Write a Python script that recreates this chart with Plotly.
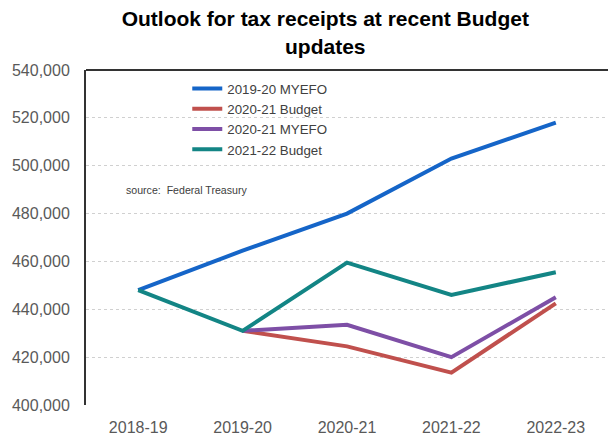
import plotly.graph_objects as go

years = ["2018-19", "2019-20", "2020-21", "2021-22", "2022-23"]
myefo_1920 = [448000, 464500, 480000, 503000, 518000]
budget_2021 = [None, 431000, 424500, 413500, 442500]
myefo_2021 = [None, 431000, 433500, 420000, 445000]
budget_2122 = [448000, 431000, 459500, 446000, 455500]
ytickvals = [400000, 420000, 440000, 460000, 480000, 500000, 520000, 540000]
yticktext = ["400,000", "420,000", "440,000", "460,000", "480,000", "500,000", "520,000", "540,000"]

series = [
    ("2019-20 MYEFO", myefo_1920, "#1565C8"),
    ("2020-21 Budget", budget_2021, "#C0504D"),
    ("2020-21 MYEFO", myefo_2021, "#7E4FA6"),
    ("2021-22 Budget", budget_2122, "#138585"),
]

fig = go.Figure()
for name, vals, col in series:
    fig.add_trace(go.Scatter(x=years, y=vals, name=name, mode="lines",
                             line=dict(color=col, width=4), connectgaps=False))

font_family = "Arial, Liberation Sans, sans-serif"
fig.update_layout(
    width=608, height=439,
    margin=dict(l=86, r=0, t=70, b=34),
    paper_bgcolor="white", plot_bgcolor="white",
    title=dict(text="<b>Outlook for tax receipts at recent Budget<br>updates</b>",
               x=0.535, xanchor="center", y=0.94, yanchor="top",
               font=dict(family=font_family, size=21, color="#000000")),
    font=dict(family=font_family, color="#595959"),
    showlegend=True,
    legend=dict(x=0.194, y=0.99, xanchor="left", yanchor="top",
                bgcolor="rgba(0,0,0,0)", font=dict(size=13.3, color="#404040"),
                itemwidth=30, tracegroupgap=0),
    xaxis=dict(type="category", range=[-0.5, 4.5], showgrid=False, zeroline=False,
               showline=False, ticks="", ticklabelstandoff=11,
               tickfont=dict(size=16, color="#595959")),
    yaxis=dict(range=[400000, 540000], tickvals=ytickvals, ticktext=yticktext,
               showgrid=True, gridcolor="#D0D0D0", griddash="dot", gridwidth=1,
               zeroline=False, showline=True, linecolor="#333333", linewidth=2,
               ticks="", ticklabelstandoff=11,
               tickfont=dict(size=16, color="#595959")),
    annotations=[dict(text="source:  Federal Treasury", x=0.073, y=0.643,
                      xref="paper", yref="paper", xanchor="left", yanchor="middle",
                      showarrow=False, font=dict(size=10.6, color="#404040"))],
    shapes=[dict(type="line", xref="paper", yref="paper", x0=0, x1=1, y0=1, y1=1,
                 line=dict(color="#333333", width=2))],
)

fig.write_html("out.html", config={"displayModeBar": False},
               post_script="document.body.style.margin='0';")
